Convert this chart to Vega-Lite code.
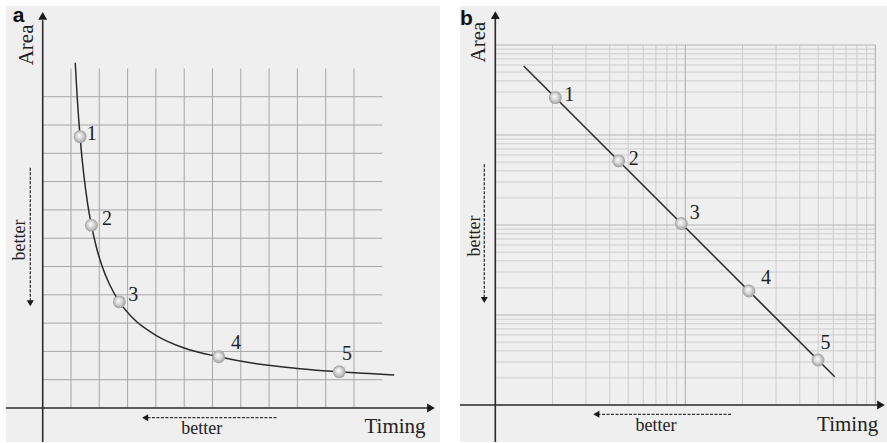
{
  "$schema": "https://vega.github.io/schema/vega-lite/v6.json",
  "padding": {"left": 5, "top": 5, "right": 1, "bottom": 2},
  "spacing": 19,
  "background": "#ffffff",
  "config": {"view": {"stroke": null, "fill": "#efefef"}},
  "datasets": {
    "aV": [{"x":1},{"x":2},{"x":3},{"x":4},{"x":5},{"x":6},{"x":7},{"x":8},{"x":9},{"x":10},{"x":11}],
    "aH": [{"y":1},{"y":2},{"y":3},{"y":4},{"y":5},{"y":6},{"y":7},{"y":8},{"y":9},{"y":10},{"y":11}],
    "aCurve": [
      {"x":1.15,"y":12.2},{"x":1.22,"y":10.97},{"x":1.32,"y":9.59},{"x":1.45,"y":8.26},
      {"x":1.58,"y":7.27},{"x":1.72,"y":6.46},{"x":1.9,"y":5.67},{"x":2.1,"y":5.01},
      {"x":2.35,"y":4.39},{"x":2.71,"y":3.75},{"x":3.2,"y":3.16},{"x":4.0,"y":2.57},
      {"x":5.0,"y":2.12},{"x":6.22,"y":1.81},{"x":7.5,"y":1.57},{"x":9.0,"y":1.4},
      {"x":10.48,"y":1.28},{"x":12.42,"y":1.17}
    ],
    "aPts": [
      {"x":1.32,"y":9.59,"t":"1","lx":1.73,"ly":9.67},
      {"x":1.72,"y":6.46,"t":"2","lx":2.27,"ly":6.67},
      {"x":2.71,"y":3.75,"t":"3","lx":3.2,"ly":3.99},
      {"x":6.22,"y":1.81,"t":"4","lx":6.83,"ly":2.31},
      {"x":10.48,"y":1.28,"t":"5","lx":10.75,"ly":1.92}
    ],
    "bVMinor": [{"x":2},{"x":3},{"x":4},{"x":5},{"x":6},{"x":7},{"x":8},{"x":9},{"x":20},{"x":30},{"x":40},{"x":50},{"x":60},{"x":70},{"x":80},{"x":90}],
    "bVMajor": [{"x":10},{"x":100}],
    "bHMinor": [{"y":2},{"y":3},{"y":4},{"y":5},{"y":6},{"y":7},{"y":8},{"y":9},
                {"y":20},{"y":30},{"y":40},{"y":50},{"y":60},{"y":70},{"y":80},{"y":90},
                {"y":200},{"y":300},{"y":400},{"y":500},{"y":600},{"y":700},{"y":800},{"y":900},
                {"y":2000},{"y":3000},{"y":4000},{"y":5000},{"y":6000},{"y":7000},{"y":8000},{"y":9000}],
    "bHMajor": [{"y":10},{"y":100},{"y":1000},{"y":10000}],
    "bLine": [{"x":1.41,"y":5848},{"x":61.1,"y":2.06}],
    "bPts": [
      {"x":2.07,"y":2600,"t":"1","lx":2.45,"ly":2762},
      {"x":4.46,"y":516,"t":"2","lx":5.35,"ly":537},
      {"x":9.52,"y":104,"t":"3","lx":11.2,"ly":137},
      {"x":21.6,"y":18.5,"t":"4","lx":26.6,"ly":25.9},
      {"x":49.9,"y":3.16,"t":"5","lx":54.6,"ly":4.92}
    ]
  },
  "hconcat": [
    {
      "width": 434,
      "height": 436,
      "encoding": {
        "x": {"type": "quantitative", "scale": {"domain": [-1.297, 14.039], "nice": false, "zero": false}, "axis": null},
        "y": {"type": "quantitative", "scale": {"domain": [-1.201, 14.205], "nice": false, "zero": false}, "axis": null}
      },
      "layer": [
        {
          "data": {"name": "aV"},
          "mark": {"type": "rule", "color": "#a6a6a6", "strokeWidth": 1},
          "encoding": {"x": {"field": "x", "type": "quantitative"}, "y": {"datum": 0}, "y2": {"datum": 12}}
        },
        {
          "data": {"name": "aH"},
          "mark": {"type": "rule", "color": "#a6a6a6", "strokeWidth": 1},
          "encoding": {"y": {"field": "y", "type": "quantitative"}, "x": {"datum": 0}, "x2": {"datum": 12}}
        },
        {
          "data": {"values": [{"a": 0}]},
          "mark": {"type": "rule", "color": "#2a2a2a", "strokeWidth": 1.6},
          "encoding": {"x": {"datum": -1.297}, "x2": {"datum": 13.7}, "y": {"datum": 0}}
        },
        {
          "data": {"values": [{"a": 0}]},
          "mark": {"type": "rule", "color": "#2a2a2a", "strokeWidth": 1.6},
          "encoding": {"y": {"datum": -1.201}, "y2": {"datum": 13.7}, "x": {"datum": 0}}
        },
        {
          "data": {"values": [{"a": 0}]},
          "mark": {"type": "point", "shape": "triangle-right", "filled": true, "color": "#1a1a1a", "size": 80, "opacity": 1},
          "encoding": {"x": {"datum": 13.72}, "y": {"datum": 0}}
        },
        {
          "data": {"values": [{"a": 0}]},
          "mark": {"type": "point", "shape": "triangle-up", "filled": true, "color": "#1a1a1a", "size": 80, "opacity": 1},
          "encoding": {"x": {"datum": 0}, "y": {"datum": 13.86}}
        },
        {
          "data": {"name": "aCurve"},
          "mark": {"type": "line", "color": "#2a2a2a", "strokeWidth": 1.5, "interpolate": "monotone"},
          "encoding": {"x": {"field": "x", "type": "quantitative"}, "y": {"field": "y", "type": "quantitative"}}
        },
        {
          "data": {"name": "aPts"},
          "mark": {"type": "point", "filled": true, "size": 165, "opacity": 1, "strokeWidth": 0,
                   "fill": {"gradient": "radial", "x1": 0.42, "y1": 0.38, "r1": 0, "x2": 0.5, "y2": 0.5, "r2": 0.5,
                            "stops": [{"offset": 0, "color": "#ffffff"}, {"offset": 0.6, "color": "#cfcfcf"}, {"offset": 1, "color": "#9c9c9c"}]}},
          "encoding": {"x": {"field": "x", "type": "quantitative"}, "y": {"field": "y", "type": "quantitative"}}
        },
        {
          "data": {"name": "aPts"},
          "mark": {"type": "text", "font": "Liberation Serif", "fontSize": 20, "color": "#222222", "baseline": "middle", "align": "center"},
          "encoding": {"x": {"field": "lx", "type": "quantitative"}, "y": {"field": "ly", "type": "quantitative"}, "text": {"field": "t"}}
        },
        {
          "data": {"values": [{"t": "Timing", "x": 12.45, "y": -0.883}]},
          "mark": {"type": "text", "font": "Liberation Serif", "fontSize": 21, "color": "#222222", "align": "center", "baseline": "alphabetic"},
          "encoding": {"x": {"field": "x", "type": "quantitative"}, "y": {"field": "y", "type": "quantitative"}, "text": {"field": "t"}}
        },
        {
          "data": {"values": [{"t": "better", "x": 5.62, "y": -0.92}]},
          "mark": {"type": "text", "font": "Liberation Serif", "fontSize": 18, "color": "#222222", "align": "center", "baseline": "alphabetic"},
          "encoding": {"x": {"field": "x", "type": "quantitative"}, "y": {"field": "y", "type": "quantitative"}, "text": {"field": "t"}}
        },
        {
          "data": {"values": [{"t": "Area", "x": -0.353, "y": 12.83}]},
          "mark": {"type": "text", "font": "Liberation Serif", "fontSize": 21, "color": "#222222", "align": "center", "baseline": "alphabetic", "angle": 270},
          "encoding": {"x": {"field": "x", "type": "quantitative"}, "y": {"field": "y", "type": "quantitative"}, "text": {"field": "t"}}
        },
        {
          "data": {"values": [{"t": "better", "x": -0.608, "y": 5.94}]},
          "mark": {"type": "text", "font": "Liberation Serif", "fontSize": 18, "color": "#222222", "align": "center", "baseline": "alphabetic", "angle": 270},
          "encoding": {"x": {"field": "x", "type": "quantitative"}, "y": {"field": "y", "type": "quantitative"}, "text": {"field": "t"}}
        },
        {
          "data": {"values": [{"a": 0}]},
          "mark": {"type": "rule", "color": "#333333", "strokeWidth": 1.3, "strokeDash": [3, 1.5]},
          "encoding": {"x": {"datum": -0.438}, "y": {"datum": 8.49}, "y2": {"datum": 3.8}}
        },
        {
          "data": {"values": [{"a": 0}]},
          "mark": {"type": "point", "shape": "triangle-down", "filled": true, "color": "#1a1a1a", "size": 50, "opacity": 1},
          "encoding": {"x": {"datum": -0.438}, "y": {"datum": 3.7}}
        },
        {
          "data": {"values": [{"a": 0}]},
          "mark": {"type": "rule", "color": "#333333", "strokeWidth": 1.3, "strokeDash": [3, 1.5]},
          "encoding": {"y": {"datum": -0.343}, "x": {"datum": 3.7}, "x2": {"datum": 8.3}}
        },
        {
          "data": {"values": [{"a": 0}]},
          "mark": {"type": "point", "shape": "triangle-left", "filled": true, "color": "#1a1a1a", "size": 50, "opacity": 1},
          "encoding": {"x": {"datum": 3.62}, "y": {"datum": -0.343}}
        },
        {
          "data": {"values": [{"t": "a", "x": -1.06, "y": 13.63}]},
          "mark": {"type": "text", "font": "Liberation Sans", "fontWeight": "bold", "fontSize": 21, "color": "#111111", "align": "left", "baseline": "alphabetic"},
          "encoding": {"x": {"field": "x", "type": "quantitative"}, "y": {"field": "y", "type": "quantitative"}, "text": {"field": "t"}}
        }
      ]
    },
    {
      "width": 428,
      "height": 436,
      "encoding": {
        "x": {"type": "quantitative", "scale": {"type": "log", "domain": [0.6519, 116.5], "nice": false}, "axis": null},
        "y": {"type": "quantitative", "scale": {"type": "log", "domain": [0.388, 27126], "nice": false}, "axis": null}
      },
      "layer": [
        {
          "data": {"name": "bVMinor"},
          "mark": {"type": "rule", "color": "#cdcdcd", "strokeWidth": 1},
          "encoding": {"x": {"field": "x", "type": "quantitative"}, "y": {"datum": 1}, "y2": {"datum": 10000}}
        },
        {
          "data": {"name": "bHMinor"},
          "mark": {"type": "rule", "color": "#cdcdcd", "strokeWidth": 1},
          "encoding": {"y": {"field": "y", "type": "quantitative"}, "x": {"datum": 1}, "x2": {"datum": 100}}
        },
        {
          "data": {"name": "bVMajor"},
          "mark": {"type": "rule", "color": "#b5b5b5", "strokeWidth": 1.2},
          "encoding": {"x": {"field": "x", "type": "quantitative"}, "y": {"datum": 1}, "y2": {"datum": 10000}}
        },
        {
          "data": {"name": "bHMajor"},
          "mark": {"type": "rule", "color": "#b5b5b5", "strokeWidth": 1.2},
          "encoding": {"y": {"field": "y", "type": "quantitative"}, "x": {"datum": 1}, "x2": {"datum": 100}}
        },
        {
          "data": {"values": [{"a": 0}]},
          "mark": {"type": "rule", "color": "#2a2a2a", "strokeWidth": 1.6},
          "encoding": {"x": {"datum": 0.6519}, "x2": {"datum": 106}, "y": {"datum": 1}}
        },
        {
          "data": {"values": [{"a": 0}]},
          "mark": {"type": "rule", "color": "#2a2a2a", "strokeWidth": 1.6},
          "encoding": {"y": {"datum": 0.388}, "y2": {"datum": 21000}, "x": {"datum": 1}}
        },
        {
          "data": {"values": [{"a": 0}]},
          "mark": {"type": "point", "shape": "triangle-right", "filled": true, "color": "#1a1a1a", "size": 80, "opacity": 1},
          "encoding": {"x": {"datum": 107}, "y": {"datum": 1}}
        },
        {
          "data": {"values": [{"a": 0}]},
          "mark": {"type": "point", "shape": "triangle-up", "filled": true, "color": "#1a1a1a", "size": 80, "opacity": 1},
          "encoding": {"x": {"datum": 1}, "y": {"datum": 21544}}
        },
        {
          "data": {"name": "bLine"},
          "mark": {"type": "line", "color": "#2a2a2a", "strokeWidth": 1.5},
          "encoding": {"x": {"field": "x", "type": "quantitative"}, "y": {"field": "y", "type": "quantitative"}}
        },
        {
          "data": {"name": "bPts"},
          "mark": {"type": "point", "filled": true, "size": 165, "opacity": 1, "strokeWidth": 0,
                   "fill": {"gradient": "radial", "x1": 0.42, "y1": 0.38, "r1": 0, "x2": 0.5, "y2": 0.5, "r2": 0.5,
                            "stops": [{"offset": 0, "color": "#ffffff"}, {"offset": 0.6, "color": "#cfcfcf"}, {"offset": 1, "color": "#9c9c9c"}]}},
          "encoding": {"x": {"field": "x", "type": "quantitative"}, "y": {"field": "y", "type": "quantitative"}}
        },
        {
          "data": {"name": "bPts"},
          "mark": {"type": "text", "font": "Liberation Serif", "fontSize": 20, "color": "#222222", "baseline": "middle", "align": "center"},
          "encoding": {"x": {"field": "lx", "type": "quantitative"}, "y": {"field": "ly", "type": "quantitative"}, "text": {"field": "t"}}
        },
        {
          "data": {"values": [{"t": "Timing", "x": 71.4, "y": 0.52}]},
          "mark": {"type": "text", "font": "Liberation Serif", "fontSize": 21, "color": "#222222", "align": "center", "baseline": "alphabetic"},
          "encoding": {"x": {"field": "x", "type": "quantitative"}, "y": {"field": "y", "type": "quantitative"}, "text": {"field": "t"}}
        },
        {
          "data": {"values": [{"t": "better", "x": 7.01, "y": 0.514}]},
          "mark": {"type": "text", "font": "Liberation Serif", "fontSize": 18, "color": "#222222", "align": "center", "baseline": "alphabetic"},
          "encoding": {"x": {"field": "x", "type": "quantitative"}, "y": {"field": "y", "type": "quantitative"}, "text": {"field": "t"}}
        },
        {
          "data": {"values": [{"t": "Area", "x": 0.883, "y": 10790}]},
          "mark": {"type": "text", "font": "Liberation Serif", "fontSize": 21, "color": "#222222", "align": "center", "baseline": "alphabetic", "angle": 270},
          "encoding": {"x": {"field": "x", "type": "quantitative"}, "y": {"field": "y", "type": "quantitative"}, "text": {"field": "t"}}
        },
        {
          "data": {"values": [{"t": "better", "x": 0.831, "y": 75.5}]},
          "mark": {"type": "text", "font": "Liberation Serif", "fontSize": 18, "color": "#222222", "align": "center", "baseline": "alphabetic", "angle": 270},
          "encoding": {"x": {"field": "x", "type": "quantitative"}, "y": {"field": "y", "type": "quantitative"}, "text": {"field": "t"}}
        },
        {
          "data": {"values": [{"a": 0}]},
          "mark": {"type": "rule", "color": "#333333", "strokeWidth": 1.3, "strokeDash": [3, 1.5]},
          "encoding": {"x": {"datum": 0.875}, "y": {"datum": 472}, "y2": {"datum": 15.5}}
        },
        {
          "data": {"values": [{"a": 0}]},
          "mark": {"type": "point", "shape": "triangle-down", "filled": true, "color": "#1a1a1a", "size": 50, "opacity": 1},
          "encoding": {"x": {"datum": 0.875}, "y": {"datum": 14.7}}
        },
        {
          "data": {"values": [{"a": 0}]},
          "mark": {"type": "rule", "color": "#333333", "strokeWidth": 1.3, "strokeDash": [3, 1.5]},
          "encoding": {"y": {"datum": 0.788}, "x": {"datum": 3.45}, "x2": {"datum": 17.6}}
        },
        {
          "data": {"values": [{"a": 0}]},
          "mark": {"type": "point", "shape": "triangle-left", "filled": true, "color": "#1a1a1a", "size": 50, "opacity": 1},
          "encoding": {"x": {"datum": 3.4}, "y": {"datum": 0.788}}
        },
        {
          "data": {"values": [{"t": "b", "x": 0.652, "y": 16600}]},
          "mark": {"type": "text", "font": "Liberation Sans", "fontWeight": "bold", "fontSize": 21, "color": "#111111", "align": "left", "baseline": "alphabetic"},
          "encoding": {"x": {"field": "x", "type": "quantitative"}, "y": {"field": "y", "type": "quantitative"}, "text": {"field": "t"}}
        }
      ]
    }
  ]
}
